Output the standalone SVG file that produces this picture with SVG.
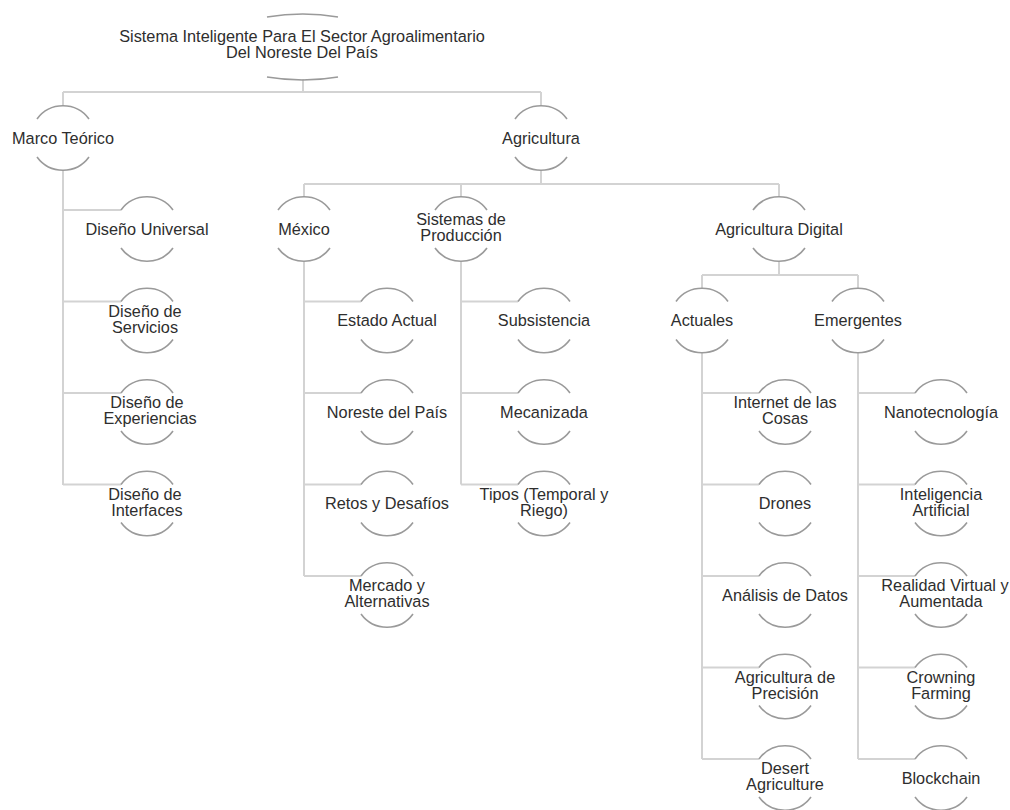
<svg xmlns="http://www.w3.org/2000/svg" xmlns:xlink="http://www.w3.org/1999/xlink" width="1010" height="810" viewBox="0 0 1010 810">
<style>
.c{fill:none;stroke:#d3d3d3;stroke-width:2}
.a{fill:none;stroke:#9a9a9a;stroke-width:1.6}
text{font-family:"Liberation Sans",Arial,sans-serif;font-size:16.3px;fill:#2e2e2e;text-anchor:middle}
</style>
<defs>
<path id="arcs" class="a" d="M -26 -19 A 32.2 32.2 0 0 1 26 -19 M -26 19 A 32.2 32.2 0 0 0 26 19"/>
</defs>
<rect width="1010" height="810" fill="#fff"/>
<g id="connectors" class="c">
<path d="M303 79V92M63 92H541M63 92V106M541 92V106"/>
<path d="M63 170V485M63 210H121M63 301.5H121M63 393H121M63 484.5H121"/>
<path d="M541 170V184M304 184H779M304 184V197M461 184V197M779 184V197"/>
<path d="M304 261V576M304 301.5H361M304 393H361M304 484.5H361M304 576H361"/>
<path d="M461 261V484.5M461 301.5H518M461 393H518M461 484.5H518"/>
<path d="M779 261V275M702 275H858M702 275V289M858 275V289"/>
<path d="M702 353V759M702 393H759M702 484.5H759M702 576H759M702 667.5H759M702 759H759"/>
<path d="M858 353V759M858 393H915M858 484.5H915M858 576H915M858 667.5H915M858 759H915"/>
</g>
<g id="root">
<path class="a" d="M267 17Q303 11 338 17M267 77Q303 83 338 77"/>
<text x="302" y="42">Sistema Inteligente Para El Sector Agroalimentario</text>
<text x="302" y="58">Del Noreste Del País</text>
</g>
<g id="marco-teorico"><use xlink:href="#arcs" x="63" y="138"/><text x="63" y="143.5">Marco Teórico</text></g>
<g id="agricultura"><use xlink:href="#arcs" x="541" y="138"/><text x="541" y="143.5">Agricultura</text></g>
<g id="diseno-universal"><use xlink:href="#arcs" x="147" y="229"/><text x="147" y="234.5">Diseño Universal</text></g>
<g id="diseno-servicios"><use xlink:href="#arcs" x="147" y="320.5"/><text x="145" y="317">Diseño de</text><text x="145" y="333">Servicios</text></g>
<g id="diseno-experiencias"><use xlink:href="#arcs" x="147" y="412"/><text x="147" y="408">Diseño de</text><text x="150" y="424">Experiencias</text></g>
<g id="diseno-interfaces"><use xlink:href="#arcs" x="147" y="503.5"/><text x="145" y="500">Diseño de</text><text x="147" y="516">Interfaces</text></g>
<g id="mexico"><use xlink:href="#arcs" x="304" y="229"/><text x="304" y="234.5">México</text></g>
<g id="sistemas-produccion"><use xlink:href="#arcs" x="461" y="229"/><text x="461" y="225">Sistemas de</text><text x="461" y="241">Producción</text></g>
<g id="agricultura-digital"><use xlink:href="#arcs" x="779" y="229"/><text x="779" y="234.5">Agricultura Digital</text></g>
<g id="estado-actual"><use xlink:href="#arcs" x="387" y="320.5"/><text x="387" y="326">Estado Actual</text></g>
<g id="noreste-pais"><use xlink:href="#arcs" x="387" y="412"/><text x="387" y="417.5">Noreste del País</text></g>
<g id="retos-desafios"><use xlink:href="#arcs" x="387" y="503.5"/><text x="387" y="509">Retos y Desafíos</text></g>
<g id="mercado-alternativas"><use xlink:href="#arcs" x="387" y="595"/><text x="387" y="591">Mercado y</text><text x="387" y="607">Alternativas</text></g>
<g id="subsistencia"><use xlink:href="#arcs" x="544" y="320.5"/><text x="544" y="326">Subsistencia</text></g>
<g id="mecanizada"><use xlink:href="#arcs" x="544" y="412"/><text x="544" y="417.5">Mecanizada</text></g>
<g id="tipos"><use xlink:href="#arcs" x="544" y="503.5"/><text x="544" y="500">Tipos (Temporal y</text><text x="544" y="516">Riego)</text></g>
<g id="actuales"><use xlink:href="#arcs" x="702" y="320.5"/><text x="702" y="326">Actuales</text></g>
<g id="emergentes"><use xlink:href="#arcs" x="858" y="320.5"/><text x="858" y="326">Emergentes</text></g>
<g id="iot"><use xlink:href="#arcs" x="785" y="412"/><text x="785" y="408">Internet de las</text><text x="785" y="424">Cosas</text></g>
<g id="drones"><use xlink:href="#arcs" x="785" y="503.5"/><text x="785" y="509">Drones</text></g>
<g id="analisis-datos"><use xlink:href="#arcs" x="785" y="595"/><text x="785" y="600.5">Análisis de Datos</text></g>
<g id="agricultura-precision"><use xlink:href="#arcs" x="785" y="686.5"/><text x="785" y="682.5">Agricultura de</text><text x="785" y="698.5">Precisión</text></g>
<g id="desert-agriculture"><use xlink:href="#arcs" x="785" y="778"/><text x="785" y="774">Desert</text><text x="785" y="790">Agriculture</text></g>
<g id="nanotecnologia"><use xlink:href="#arcs" x="941" y="412"/><text x="941" y="417.5">Nanotecnología</text></g>
<g id="inteligencia-artificial"><use xlink:href="#arcs" x="941" y="503.5"/><text x="941" y="500">Inteligencia</text><text x="941" y="516">Artificial</text></g>
<g id="realidad-virtual"><use xlink:href="#arcs" x="941" y="595"/><text x="945" y="591">Realidad Virtual y</text><text x="941" y="607">Aumentada</text></g>
<g id="crowning-farming"><use xlink:href="#arcs" x="941" y="686.5"/><text x="941" y="682.5">Crowning</text><text x="941" y="698.5">Farming</text></g>
<g id="blockchain"><use xlink:href="#arcs" x="941" y="778"/><text x="941" y="783.5">Blockchain</text></g>
</svg>
